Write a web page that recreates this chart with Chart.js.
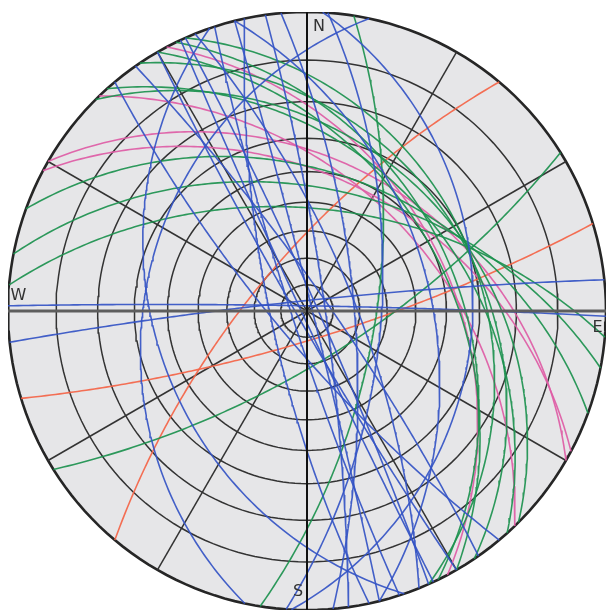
<!DOCTYPE html>
<html>
<head>
<meta charset="utf-8">
<script src="https://cdn.jsdelivr.net/npm/chart.js@4/dist/chart.umd.min.js"></script>
<style>
  html, body { margin: 0; padding: 0; background: #ffffff; }
  #wrap { width: 606px; height: 610px; position: relative; }
</style>
</head>
<body>
<div id="wrap"><canvas id="net" width="606" height="610"></canvas></div>
<script>
// Wulff (equal-angle) stereonet, lower hemisphere.
// Planes are given as dip direction / dip (degrees).

const blueDipDir = [66, 252, 76, 82, 94, 282, 251, 354, 1, 55, 240, 230, 68, 258, 85, 93, 76, 245];
const blueDip    = [86, 84, 88, 83, 62, 33, 36, 86, 88, 82, 86, 78, 72, 76, 72, 32, 45, 88];

const greenDipDir = [20, 11, 5, 56, 48, 64, 148, 99, 45, 66, 60];
const greenDip    = [40, 45, 52, 31, 36, 37, 71, 64, 32, 30, 40];

const redDipDir = [163, 310];
const redDip    = [79, 70];

const pinkDipDir = [62, 30, 28, 46];
const pinkDip    = [39, 37, 42, 44];

// net grid: small circles of equal plunge and radial azimuth lines
const gridPlunges  = [10, 20, 30, 40, 50, 60, 70, 80];
const gridAzimuths = [30, 60, 120, 150, 210, 240, 300, 330];

const compassLabels = ['N', 'E', 'S', 'W'];
const compassPos = [[0.04, 0.95], [0.972, -0.055], [-0.03, -0.94], [-0.965, 0.05]];

const D2R = Math.PI / 180;

// stereographic projection of a downward unit vector (east, north, down)
function project(e, n, z) {
  const k = 1 / (1 + z);
  return { x: e * k, y: n * k };
}

function greatCircle(dipDir, dip) {
  const a = dipDir * D2R, d = dip * D2R;
  const sE = Math.sin(a - Math.PI / 2), sN = Math.cos(a - Math.PI / 2);
  const dE = Math.cos(d) * Math.sin(a), dN = Math.cos(d) * Math.cos(a), dZ = Math.sin(d);
  const pts = [];
  for (let i = 0; i <= 180; i++) {
    const t = i * D2R;
    const c = Math.cos(t), s = Math.sin(t);
    pts.push(project(c * sE + s * dE, c * sN + s * dN, s * dZ));
  }
  return pts;
}

function smallCircle(plunge) {
  const r = Math.tan((90 - plunge) / 2 * D2R);
  const pts = [];
  for (let i = 0; i <= 360; i += 2) pts.push({ x: r * Math.sin(i * D2R), y: r * Math.cos(i * D2R) });
  return pts;
}

function radial(az) {
  return [{ x: 0, y: 0 }, { x: Math.sin(az * D2R), y: Math.cos(az * D2R) }];
}

function lineSet(data, color, width, order, extra) {
  return Object.assign({
    data, borderColor: color, borderWidth: width, pointRadius: 0,
    showLine: true, tension: 0, fill: false, order
  }, extra || {});
}

const datasets = [];

// disk background and primitive circle
datasets.push(lineSet(smallCircle(0), '#262626', 2.6, 20,
  { fill: 'shape', backgroundColor: '#e6e6e8' }));

gridPlunges.forEach(p => datasets.push(lineSet(smallCircle(p), '#333333', 1.5, 15)));
gridAzimuths.forEach(a => datasets.push(lineSet(radial(a), '#333333', 1.5, 15)));

const families = [
  [blueDipDir, blueDip, 'rgba(52,84,196,0.92)'],
  [greenDipDir, greenDip, 'rgba(28,145,78,0.92)'],
  [pinkDipDir, pinkDip, 'rgba(222,92,165,0.92)'],
  [redDipDir, redDip, 'rgba(244,100,70,0.92)']
];
families.forEach(([dd, dp, col]) => {
  dd.forEach((v, i) => datasets.push(lineSet(greatCircle(v, dp[i]), col, 1.6, 5)));
});

// N-S and E-W axes
datasets.push(lineSet([{ x: 0, y: 1 }, { x: 0, y: -1 }], '#111111', 2, 1));
datasets.push(lineSet([{ x: -1, y: 0 }, { x: 1, y: 0 }], '#5e5e5e', 3, 1));

const compassPlugin = {
  id: 'compass',
  afterDatasetsDraw(chart) {
    const { ctx, scales } = chart;
    ctx.save();
    ctx.font = '16px "DejaVu Sans", sans-serif';
    ctx.fillStyle = '#333333';
    ctx.textAlign = 'center';
    ctx.textBaseline = 'middle';
    compassLabels.forEach((lab, i) => {
      ctx.fillText(lab, scales.x.getPixelForValue(compassPos[i][0]), scales.y.getPixelForValue(compassPos[i][1]));
    });
    ctx.restore();
  }
};

new Chart(document.getElementById('net'), {
  type: 'scatter',
  data: { datasets },
  options: {
    responsive: false,
    animation: false,
    layout: { padding: { left: 8, right: 0, top: 12, bottom: 0 } },
    scales: {
      x: { type: 'linear', min: -1, max: 1, display: false },
      y: { type: 'linear', min: -1, max: 1, display: false }
    },
    plugins: {
      legend: { display: false },
      tooltip: { enabled: false },
      filler: { drawTime: 'beforeDatasetsDraw' }
    }
  },
  plugins: [compassPlugin]
});
</script>
</body>
</html>
